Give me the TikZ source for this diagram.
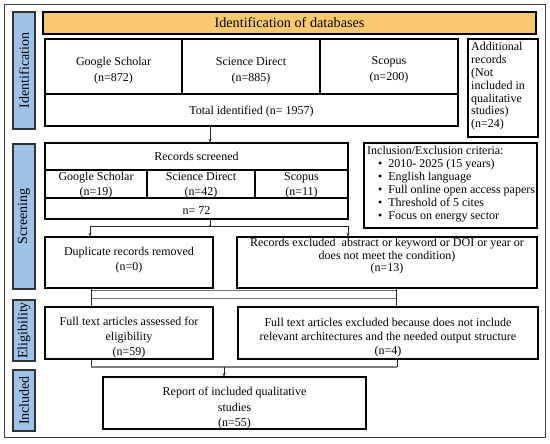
\documentclass[tikz,border=0pt]{standalone}
\usepackage{fontspec}
\setmainfont{Liberation Serif}
\usetikzlibrary{arrows.meta}
\definecolor{sideblue}{HTML}{9DC3E6}
\definecolor{headyel}{HTML}{FAC96F}
\newcommand\bx[6][]{\node[box,#1,minimum width={(#4-#2)*1pt},minimum height={(#5-#3)*1pt}] (#6) at ({(#2+#4)/2},{(#3+#5)/2}) {};}
\newcommand\bt[4][]{\node[txt,#1] (#2T) at ([yshift=#3pt]#2.center) {#4};}
\begin{document}
\begin{tikzpicture}[x=1pt,y=-1pt,
  box/.style={draw, line width=1.1pt, inner sep=0pt},
  txt/.style={inner sep=0pt, align=center, font=\fontsize{12}{15}\selectfont},
  side/.style={box, draw=black!80, fill=sideblue},
  sidetxt/.style={inner sep=0pt, rotate=90, font=\fontsize{14}{16}\selectfont},
  conn/.style={line width=0.8pt, black!85},
  arr/.style={conn, -{Stealth[length=3.5pt,width=3pt]}},
  bar/.style={line width=0.8pt, black!55}]
\useasboundingbox (0,0) rectangle (550,444);
% outer frame
\node[draw=black!75, line width=0.8pt, minimum width=541pt, minimum height=433pt, inner sep=0pt] (frame) at (274.5,220.5) {};
% side labels
\bx[side]{13}{12}{35}{129}{labId}
\node[sidetxt] (tId) at (labId) {Identification};
\bx[side]{13}{144}{35}{289}{labScr}
\node[sidetxt] (tScr) at (labScr) {Screening};
\bx[side]{13}{300}{35}{361}{labElig}
\node[sidetxt] (tElig) at (labElig) {Eligibility};
\bx[side]{13}{370}{35}{431}{labIncl}
\node[sidetxt] (tIncl) at (labIncl) {Included};
% header
\bx[fill=headyel]{43}{12}{536}{34}{head}
\bt[font=\fontsize{14.2}{16}\selectfont]{head}{0}{Identification of databases}
% identification
\bx{45}{39}{182}{94}{gs}
\bt[font=\fontsize{12}{16}\selectfont]{gs}{-4}{Google Scholar\\(n=872)}
\bx{182}{39}{320}{94}{sd}
\bt[font=\fontsize{12}{16}\selectfont]{sd}{-4}{Science Direct\\(n=885)}
\bx{320}{39}{458}{94}{sc}
\bt[font=\fontsize{12}{16}\selectfont]{sc}{-3}{Scopus\\(n=200)}
\bx{45}{94}{458}{126}{total}
\bt{total}{-2}{Total identified (n= 1957)}
\bx{468}{39}{538}{137}{add}
\node[txt, align=left, anchor=west, font=\fontsize{12}{12.8}\selectfont] (addT) at ([yshift=1.5pt]add.center -| 471,0) {Additional\\records\\(Not\\included in\\qualitative\\studies)\\(n=24)};
% screening
\bx{45}{143}{348}{170}{scr}
\bt{scr}{0}{Records screened}
\bx{45}{170}{147}{198}{gs2}
\bt{gs2}{-1.5}{Google Scholar\\(n=19)}
\bx{147}{170}{255}{198}{sd2}
\bt{sd2}{-1.5}{Science Direct\\(n=42)}
\bx{255}{170}{348}{198}{sc2}
\bt{sc2}{-1.5}{Scopus\\(n=11)}
\bx{45}{198}{348}{219}{n72}
\bt{n72}{-2}{n= 72}
\bx{364}{143}{537}{228}{incl}
\node[txt, align=left, anchor=west, font=\fontsize{12}{13}\selectfont] (inclT) at ([yshift=1.5pt]incl.center -| 367,0) {Inclusion/Exclusion criteria:\\
\hspace*{11pt}\textbullet\ \ 2010- 2025 (15 years)\\
\hspace*{11pt}\textbullet\ \ English language\\
\hspace*{11pt}\textbullet\ \ Full online open access papers\\
\hspace*{11pt}\textbullet\ \ Threshold of 5 cites\\
\hspace*{11pt}\textbullet\ \ Focus on energy sector};
\bx{45}{237}{213}{288}{dup}
\bt{dup}{2.5}{Duplicate records removed\\(n=0)}
\bx{237}{237}{537}{288}{exc}
\bt[font=\fontsize{12}{12.5}\selectfont]{exc}{6}{Records excluded\ \ abstract or keyword or DOI or year or\\does not meet the condition)\\(n=13)}
% eligibility
\bx{45}{307}{213}{359}{fta}
\bt{fta}{-5}{Full text articles assessed for\\eligibility\\(n=59)}
\bx{238}{307}{538}{359}{fte}
\bt[font=\fontsize{12}{14}\selectfont]{fte}{-5}{Full text articles excluded because does not include\\relevant architectures and the needed output structure\\(n=4)}
% included
\bx{103}{377}{366}{429}{rep}
\bt[font=\fontsize{12}{15.5}\selectfont]{rep}{-5.5}{Report of included qualitative\\studies\\(n=55)}
% connectors
\coordinate (j1) at (210,226);
\coordinate (jl) at (90,226);
\coordinate (jr) at (348,226);
\draw[arr] (total.south -| j1) -- (scr.north -| j1);
\draw[conn] (n72.south -| j1) -- (j1);
\fill (j1) circle (1.2pt);
\draw[conn] (jl) -- (jr);
\draw[arr] (jl) -- (dup.north -| jl);
\draw[arr] (jr) -- (exc.north -| jr);
% hollow bar between screening and eligibility
\coordinate (b1) at (91,290);
\coordinate (b2) at (396,298);
\draw[bar] (b1) rectangle (b2);
\draw[conn] (dup.south -| b1) -- (fta.north -| b1);
\draw[conn] (exc.south -| b2) -- (fte.north -| b2);
% bottom join
\coordinate (c1) at (91,367);
\coordinate (c2) at (397,367);
\coordinate (c3) at (224,367);
\draw[conn] (fta.south -| c1) -- (c1);
\draw[conn] (fte.south -| c2) -- (c2);
\draw[line width=1.6pt, black!50] (c1) -- (c2);
\draw[arr] (c3) -- (rep.north -| c3);
\end{tikzpicture}
\end{document}
